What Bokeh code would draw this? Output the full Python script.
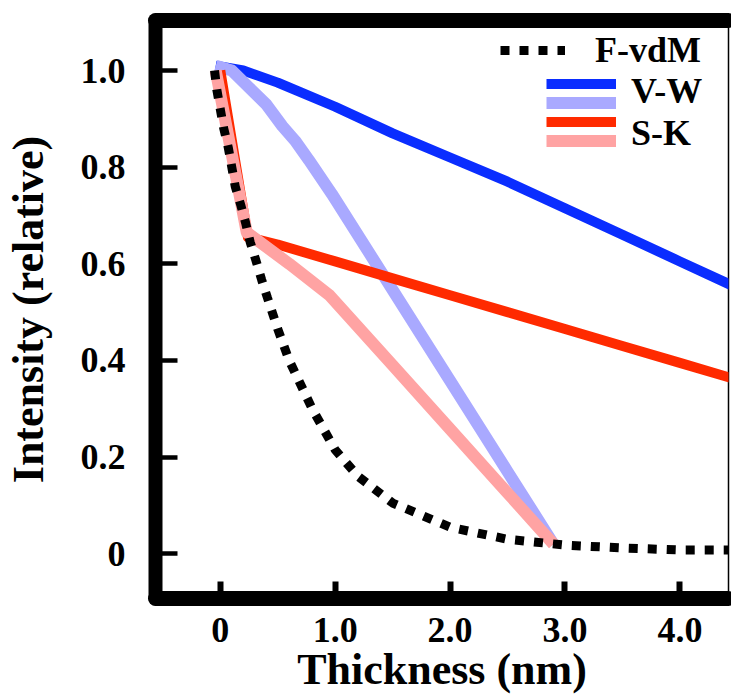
from bokeh.plotting import figure
from bokeh.models import FixedTicker, Legend, LegendItem, LinearAxis, Range1d
from bokeh.embed import file_html
from bokeh.resources import INLINE

# ---- data ----
x_ticks = [0, 1, 2, 3, 4]
x_tick_labels = ["0", "1.0", "2.0", "3.0", "4.0"]
y_ticks = [0, 0.2, 0.4, 0.6, 0.8, 1.0]
y_tick_labels = ["0", "0.2", "0.4", "0.6", "0.8", "1.0"]

fvdm_x = [-0.05, -0.03, 0.0, 0.03, 0.07, 0.10, 0.13, 0.18, 0.22, 0.26, 0.31, 0.36,
          0.41, 0.5, 0.6, 0.8, 1.0, 1.2, 1.5, 2.0, 2.5, 3.0, 3.5, 4.0, 4.5]
fvdm_y = [1.0, 0.96, 0.92, 0.88, 0.84, 0.80, 0.76, 0.72, 0.685, 0.645, 0.607, 0.567,
          0.53, 0.465, 0.40, 0.30, 0.215, 0.16, 0.105, 0.055, 0.03, 0.018, 0.012, 0.008, 0.008]

vw_dark_x = [-0.04, 0.2, 0.5, 1.0, 1.5, 2.0, 2.5, 3.0, 3.5, 4.0, 4.5]
vw_dark_y = [1.01, 1.0, 0.975, 0.925, 0.87, 0.82, 0.77, 0.715, 0.66, 0.605, 0.55]

vw_light_x = [-0.04, 0.1, 0.25, 0.4, 0.54, 0.65, 0.77, 0.87, 0.97, 1.5, 2.0, 2.5, 2.9]
vw_light_y = [1.01, 1.0, 0.965, 0.93, 0.885, 0.855, 0.815, 0.78, 0.745, 0.546, 0.358, 0.17, 0.02]

sk_dark_x = [0.0, 0.24, 0.5, 1.0, 1.5, 2.0, 2.5, 3.0, 3.5, 4.0, 4.5]
sk_dark_y = [1.0, 0.655, 0.64, 0.605, 0.57, 0.535, 0.50, 0.465, 0.43, 0.395, 0.36]

sk_light_x = [-0.04, 0.23, 0.6, 0.95, 1.5, 2.0, 2.5, 2.9]
sk_light_y = [1.0, 0.665, 0.6, 0.535, 0.39, 0.258, 0.126, 0.02]

FONT = "Liberation Serif"

p = figure(width=731, height=700,
           x_range=Range1d(-0.564, 4.423), y_range=Range1d(-0.0925, 1.1035),
           output_backend="svg", toolbar_location=None,
           min_border_left=153, min_border_right=3, min_border_top=20, min_border_bottom=102)
p.background_fill_color = "white"
p.border_fill_color = "white"
p.xgrid.visible = False
p.ygrid.visible = False
p.outline_line_color = "black"
p.outline_line_width = 1.5

# ---- axes ----
xa = p.xaxis[0]
xa.ticker = FixedTicker(ticks=x_ticks)
xa.major_label_overrides = dict(zip(x_ticks, x_tick_labels))
xa.axis_line_width = 15
xa.axis_line_cap = "round"
xa.axis_line_color = "black"
xa.major_tick_in = 17
xa.major_tick_out = 0
xa.major_tick_line_width = 6
xa.major_tick_line_color = "black"
xa.minor_tick_line_color = None
xa.major_label_standoff = 19
xa.major_label_text_font = FONT
xa.major_label_text_font_style = "bold"
xa.major_label_text_font_size = "36px"
xa.major_label_text_color = "black"
xa.axis_label = "Thickness (nm)"
xa.axis_label_text_font = FONT
xa.axis_label_text_font_style = "bold"
xa.axis_label_text_font_size = "44px"
xa.axis_label_text_color = "black"
xa.axis_label_standoff = 0

ya = p.yaxis[0]
ya.ticker = FixedTicker(ticks=y_ticks)
ya.major_label_overrides = dict(zip(y_ticks, y_tick_labels))
ya.axis_line_width = 14
ya.axis_line_cap = "round"
ya.axis_line_color = "black"
ya.major_tick_in = 22
ya.major_tick_out = 0
ya.major_tick_line_width = 4.5
ya.major_tick_line_color = "black"
ya.minor_tick_line_color = None
ya.major_label_standoff = 30
ya.major_label_text_font = FONT
ya.major_label_text_font_style = "bold"
ya.major_label_text_font_size = "36px"
ya.major_label_text_color = "black"
ya.axis_label = "Intensity (relative)"
ya.axis_label_text_font = FONT
ya.axis_label_text_font_style = "bold"
ya.axis_label_text_font_size = "44px"
ya.axis_label_text_color = "black"
ya.axis_label_standoff = 25

top = LinearAxis(ticker=FixedTicker(ticks=[]), axis_line_width=15, axis_line_cap="round",
                 axis_line_color="black", major_tick_line_color=None,
                 minor_tick_line_color=None, major_label_text_font_size="0px")
p.add_layout(top, "above")

# ---- series ----
r_b = p.line(vw_dark_x, vw_dark_y, line_color="#0a2dff", line_width=10, line_join="round")
r_lb = p.line(vw_light_x, vw_light_y, line_color="#a9a9ff", line_width=12, line_join="round")
r_r = p.line(sk_dark_x, sk_dark_y, line_color="#ff2a00", line_width=10, line_join="round")
r_p = p.line(sk_light_x, sk_light_y, line_color="#ffa3a3", line_width=12, line_join="round")
r_f = p.line(fvdm_x, fvdm_y, line_color="black", line_width=9, line_dash="9 10")

common = dict(padding=0, margin=0, border_line_color=None, background_fill_alpha=0,
              label_text_font=FONT, label_text_font_style="bold", label_text_color="black")

leg1 = Legend(items=[LegendItem(label="F-vdM", renderers=[r_f])],
              location=(345, 527), glyph_width=65, glyph_height=40, label_height=40,
              label_standoff=30, spacing=0, label_text_font_size="36px", **common)
leg2 = Legend(items=[LegendItem(label=" ", renderers=[r_b]),
                     LegendItem(label=" ", renderers=[r_lb]),
                     LegendItem(label=" ", renderers=[r_r]),
                     LegendItem(label=" ", renderers=[r_p])],
              location=(391, 448.5), glyph_width=70, glyph_height=19, label_height=19,
              label_standoff=0, spacing=0, label_text_font_size="1px", **common)
leg3 = Legend(items=[LegendItem(label="V-W", renderers=[r_b]),
                     LegendItem(label="S-K", renderers=[r_r])],
              location=(476, 444), glyph_width=0, glyph_height=41, label_height=41,
              label_standoff=0, spacing=0, label_text_font_size="36px", **common)
p.add_layout(leg1)
p.add_layout(leg2)
p.add_layout(leg3)

open("out.html", "w").write(file_html(p, INLINE))
